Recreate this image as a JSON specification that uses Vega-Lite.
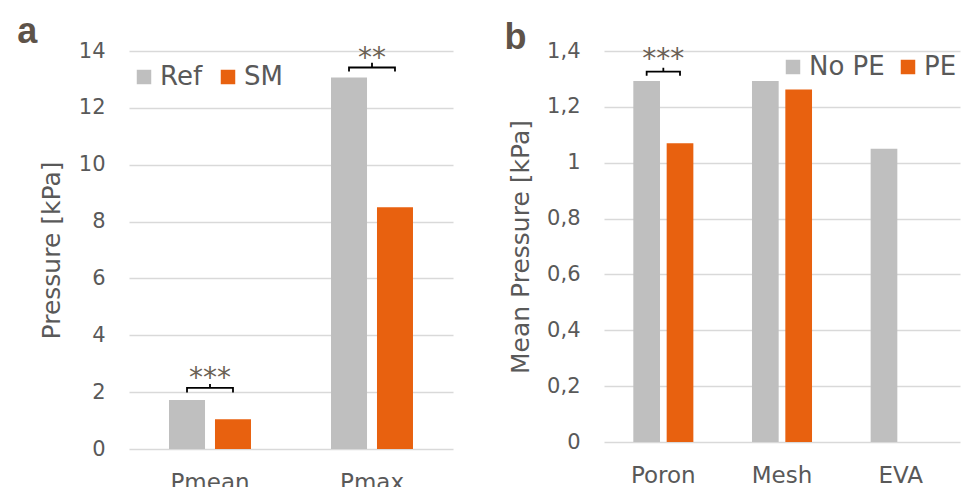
{
  "$schema": "https://vega.github.io/schema/vega-lite/v6.json",
  "background": "white",
  "padding": {"left": 17, "top": 14, "right": 5, "bottom": 5},
  "spacing": 51,
  "resolve": {"scale": {"x": "independent", "xOffset": "independent", "y": "independent", "color": "independent"}, "legend": {"color": "independent"}},
  "config": {
    "font": "DejaVu Sans",
    "view": {"stroke": null},
    "axis": {
      "labelColor": "#595959",
      "titleColor": "#595959",
      "titleFontWeight": "normal",
      "domain": false,
      "ticks": false,
      "gridColor": "#d9d9d9",
      "gridWidth": 1.5
    },
    "axisX": {"grid": false, "labelFontSize": 23, "labelPadding": 22, "labelAngle": 0},
    "axisY": {"labelFontSize": 21, "labelPadding": 24, "titleFontSize": 25},
    "legend": {
      "title": null,
      "direction": "horizontal",
      "symbolType": "square",
      "symbolSize": 210,
      "symbolStrokeWidth": 0,
      "labelFontSize": 26,
      "labelColor": "#595959",
      "labelOffset": 3,
      "padding": 0
    },
    "title": {"font": "Liberation Sans", "fontSize": 36, "fontWeight": "bold", "color": "#5e5349", "anchor": "start", "frame": "bounds", "baseline": "alphabetic"}
  },
  "hconcat": [
    {
      "title": {"text": "a", "offset": -11, "dx": -22},
      "width": 324,
      "height": 398,
      "layer": [
        {
          "data": {"values": [
            {"cat": "Pmean", "group": "Ref", "value": 1.72},
            {"cat": "Pmean", "group": "SM", "value": 1.05},
            {"cat": "Pmax", "group": "Ref", "value": 13.07},
            {"cat": "Pmax", "group": "SM", "value": 8.5}
          ]},
          "mark": {"type": "bar"},
          "encoding": {
            "x": {"field": "cat", "type": "nominal", "sort": ["Pmean", "Pmax"], "scale": {"paddingInner": 0.494, "paddingOuter": 0.247}, "axis": {"title": null}},
            "xOffset": {"field": "group", "type": "nominal", "sort": ["Ref", "SM"], "scale": {"paddingInner": 0.217, "paddingOuter": 0}},
            "y": {"field": "value", "type": "quantitative", "scale": {"domain": [0, 14]}, "axis": {"values": [0, 2, 4, 6, 8, 10, 12, 14], "title": "Pressure [kPa]", "titlePadding": 14}},
            "color": {"field": "group", "type": "nominal", "sort": ["Ref", "SM"], "scale": {"range": ["#bfbfbf", "#e8610f"]}, "legend": {"orient": "top-left", "offset": 2, "columnPadding": 12, "title": " ", "titleFontSize": 2, "titlePadding": 9}}
          }
        },
        {
          "data": {"values": [
            {"id": "a1", "cat": "Pmean", "group": "Ref", "y": 1.99, "ord": 1},
            {"id": "a1", "cat": "Pmean", "group": "Ref", "y": 2.15, "ord": 2},
            {"id": "a1", "cat": "Pmean", "group": "SM", "y": 2.15, "ord": 3},
            {"id": "a1", "cat": "Pmean", "group": "SM", "y": 1.99, "ord": 4},
            {"id": "a2", "cat": "Pmax", "group": "Ref", "y": 13.28, "ord": 1},
            {"id": "a2", "cat": "Pmax", "group": "Ref", "y": 13.42, "ord": 2},
            {"id": "a2", "cat": "Pmax", "group": "SM", "y": 13.42, "ord": 3},
            {"id": "a2", "cat": "Pmax", "group": "SM", "y": 13.28, "ord": 4}
          ]},
          "mark": {"type": "line", "color": "black", "strokeWidth": 1.8},
          "encoding": {
            "x": {"field": "cat", "type": "nominal", "sort": ["Pmean", "Pmax"]},
            "xOffset": {"field": "group", "type": "nominal", "sort": ["Ref", "SM"]},
            "y": {"field": "y", "type": "quantitative"},
            "detail": {"field": "id"},
            "order": {"field": "ord"}
          }
        },
        {
          "data": {"values": [
            {"cat": "Pmean", "y1": 2.15, "y2": 2.29},
            {"cat": "Pmax", "y1": 13.42, "y2": 13.59}
          ]},
          "mark": {"type": "rule", "color": "black", "strokeWidth": 1.8},
          "encoding": {
            "x": {"field": "cat", "type": "nominal", "sort": ["Pmean", "Pmax"]},
            "y": {"field": "y1", "type": "quantitative"},
            "y2": {"field": "y2"}
          }
        },
        {
          "data": {"values": [
            {"cat": "Pmean", "y": 2.18, "label": "***"},
            {"cat": "Pmax", "y": 13.42, "label": "**"}
          ]},
          "mark": {"type": "text", "baseline": "alphabetic", "fontSize": 28, "color": "#6b6155"},
          "encoding": {
            "x": {"field": "cat", "type": "nominal", "sort": ["Pmean", "Pmax"]},
            "y": {"field": "y", "type": "quantitative"},
            "text": {"field": "label"}
          }
        }
      ]
    },
    {
      "title": {"text": "b", "offset": -17, "dx": -4},
      "width": 356,
      "height": 391,
      "layer": [
        {
          "data": {"values": [
            {"cat": "Poron", "group": "No PE", "value": 1.293},
            {"cat": "Poron", "group": "PE", "value": 1.07},
            {"cat": "Mesh", "group": "No PE", "value": 1.293},
            {"cat": "Mesh", "group": "PE", "value": 1.262},
            {"cat": "EVA", "group": "No PE", "value": 1.05}
          ]},
          "mark": {"type": "bar"},
          "encoding": {
            "x": {"field": "cat", "type": "nominal", "sort": ["Poron", "Mesh", "EVA"], "scale": {"paddingInner": 0.494, "paddingOuter": 0.247}, "axis": {"title": null}},
            "xOffset": {"field": "group", "type": "nominal", "sort": ["No PE", "PE"], "scale": {"paddingInner": 0.2, "paddingOuter": 0}},
            "y": {"field": "value", "type": "quantitative", "scale": {"domain": [0, 1.4]}, "axis": {"values": [0, 0.2, 0.4, 0.6, 0.8, 1, 1.2, 1.4], "labelExpr": "replace(format(datum.value, '.1~f'), '.', ',')", "title": "Mean Pressure [kPa]", "titlePadding": 13}},
            "color": {"field": "group", "type": "nominal", "sort": ["No PE", "PE"], "scale": {"range": ["#bfbfbf", "#e8610f"]}, "legend": {"orient": "top-right", "offset": 3, "columnPadding": 10}}
          }
        },
        {
          "data": {"values": [
            {"id": "b1", "cat": "Poron", "group": "No PE", "y": 1.311, "ord": 1},
            {"id": "b1", "cat": "Poron", "group": "No PE", "y": 1.326, "ord": 2},
            {"id": "b1", "cat": "Poron", "group": "PE", "y": 1.326, "ord": 3},
            {"id": "b1", "cat": "Poron", "group": "PE", "y": 1.311, "ord": 4}
          ]},
          "mark": {"type": "line", "color": "black", "strokeWidth": 1.8},
          "encoding": {
            "x": {"field": "cat", "type": "nominal", "sort": ["Poron", "Mesh", "EVA"]},
            "xOffset": {"field": "group", "type": "nominal", "sort": ["No PE", "PE"]},
            "y": {"field": "y", "type": "quantitative"},
            "detail": {"field": "id"},
            "order": {"field": "ord"}
          }
        },
        {
          "data": {"values": [
            {"cat": "Poron", "y1": 1.326, "y2": 1.34}
          ]},
          "mark": {"type": "rule", "color": "black", "strokeWidth": 1.8},
          "encoding": {
            "x": {"field": "cat", "type": "nominal", "sort": ["Poron", "Mesh", "EVA"]},
            "y": {"field": "y1", "type": "quantitative"},
            "y2": {"field": "y2"}
          }
        },
        {
          "data": {"values": [
            {"cat": "Poron", "y": 1.338, "label": "***"}
          ]},
          "mark": {"type": "text", "baseline": "alphabetic", "fontSize": 28, "color": "#6b6155"},
          "encoding": {
            "x": {"field": "cat", "type": "nominal", "sort": ["Poron", "Mesh", "EVA"]},
            "y": {"field": "y", "type": "quantitative"},
            "text": {"field": "label"}
          }
        }
      ]
    }
  ]
}
